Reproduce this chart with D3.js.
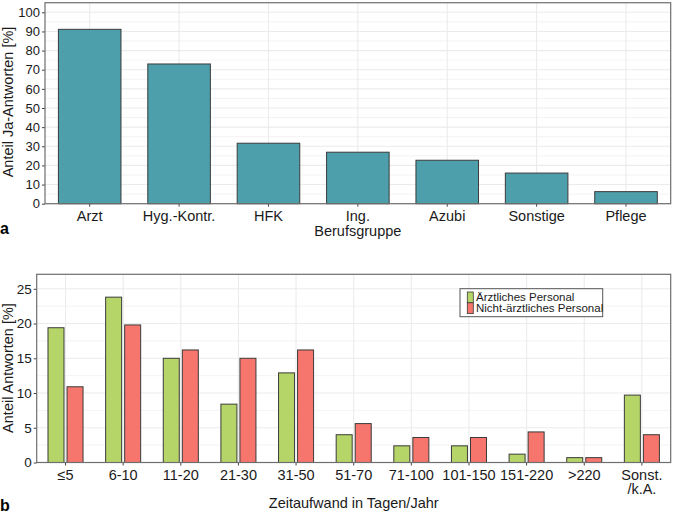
<!DOCTYPE html>
<html><head><meta charset="utf-8">
<script src="https://cdn.jsdelivr.net/npm/d3@7"></script>
<style>
html,body{margin:0;padding:0;background:#fff;}
svg{display:block;font-family:"Liberation Sans",Arial,sans-serif;}
</style></head>
<body>
<svg id="chart" width="673" height="513"></svg>
<script>
// Panel a data
const groupsA = ["Arzt","Hyg.-Kontr.","HFK","Ing.","Azubi","Sonstige","Pflege"];
const valuesA = [91.1, 73.0, 31.6, 26.9, 22.7, 16.0, 6.3];
const yTicksA = [0,10,20,30,40,50,60,70,80,90,100];

// Panel b data
const categoriesB = ["≤5","6-10","11-20","21-30","31-50","51-70","71-100","101-150","151-220",">220","Sonst.\n/k.A."];
const seriesNames = ["Ärztliches Personal","Nicht-ärztliches Personal"];
const aerztlich = [19.4, 23.8, 15.0, 8.4, 12.9, 4.0, 2.4, 2.4, 1.2, 0.7, 9.7];
const nichtAerztlich = [10.9, 19.8, 16.2, 15.0, 16.2, 5.6, 3.6, 3.6, 4.4, 0.7, 4.0];
const yTicksB = [0,5,10,15,20,25];

const colA = "#4d9fac";
const colors = ["#b5d568","#f6766d"];
const gridCol = "#ebebeb";
const borderCol = "#6e6e6e";
const barStroke = "#3b3b3b";

const svg = d3.select("#chart");

function panel(opts){
  const g = svg.append("g");
  const {x, y, majors, minors, xLabels} = opts;
  const [x0,x1] = x.range();
  const [yb,yt] = y.range();
  // minor grid
  g.selectAll(".ymin").data(minors).join("line")
    .attr("x1",x0).attr("x2",x1).attr("y1",d=>y(d)).attr("y2",d=>y(d))
    .attr("stroke",gridCol).attr("stroke-width",0.6);
  g.selectAll(".ymaj").data(majors).join("line")
    .attr("x1",x0).attr("x2",x1).attr("y1",d=>y(d)).attr("y2",d=>y(d))
    .attr("stroke",gridCol).attr("stroke-width",1.1);
  g.selectAll(".xmaj").data(xLabels).join("line")
    .attr("x1",d=>x(d)+x.bandwidth()/2).attr("x2",d=>x(d)+x.bandwidth()/2)
    .attr("y1",yb).attr("y2",yt)
    .attr("stroke",gridCol).attr("stroke-width",1.1);
  return g;
}

function frame(g, x, y, yTicks, xLabels, tickFontY, tickFontX){
  const [x0,x1] = x.range();
  const [yb,yt] = y.range();
  // y axis
  const ya = g.append("g").attr("transform",`translate(${x0},0)`)
    .call(d3.axisLeft(y).tickValues(yTicks).tickSize(3).tickPadding(2));
  ya.select(".domain").remove();
  ya.selectAll("line").attr("stroke","#444");
  ya.selectAll("text").attr("fill","#1a1a1a").style("font-size",tickFontY+"px")
    .style("font-family","'Liberation Sans',Arial,sans-serif");
  const xa = g.append("g").attr("transform",`translate(0,${yb})`)
    .call(d3.axisBottom(x).tickSize(3).tickPadding(3).tickFormat(()=>""));
  xa.select(".domain").remove();
  xa.selectAll("line").attr("stroke","#444");
  xa.selectAll(".tick").each(function(d){
    const lines = d.split("\n");
    const t = d3.select(this).append("text").attr("fill","#1a1a1a")
      .attr("text-anchor","middle").style("font-size",tickFontX+"px")
      .style("font-family","'Liberation Sans',Arial,sans-serif");
    lines.forEach((l,i)=>t.append("tspan").attr("x",0).attr("y",17+i*14.5).text(l));
  });
  g.append("rect").attr("x",x0).attr("y",yt).attr("width",x1-x0).attr("height",yb-yt)
    .attr("fill","none").attr("stroke",borderCol).attr("stroke-width",1.2);
}

// ---------- Panel a ----------
const xA = d3.scaleBand().domain(groupsA).range([45,670.7]).paddingInner(0.3).paddingOuter(0.15);
const yA = d3.scaleLinear().domain([0,105]).range([203.7, 203.7-105*1.914]);
const gA = panel({x:xA, y:yA, majors:yTicksA, minors:d3.range(5,105,10), xLabels:groupsA});
gA.selectAll(".bar").data(groupsA).join("rect")
  .attr("x",d=>xA(d)).attr("width",xA.bandwidth())
  .attr("y",(d,i)=>yA(valuesA[i])).attr("height",(d,i)=>yA(0)-yA(valuesA[i]))
  .attr("fill",colA).attr("stroke",barStroke).attr("stroke-width",1);
frame(gA, xA, yA, yTicksA, groupsA, 13, 14.5);
svg.append("text").attr("x",357.8).attr("y",236).attr("text-anchor","middle")
  .style("font-size","14.5px").attr("fill","#1a1a1a").text("Berufsgruppe");
svg.append("text").attr("transform","translate(13,102) rotate(-90)").attr("text-anchor","middle")
  .style("font-size","14.5px").attr("fill","#1a1a1a").text("Anteil Ja-Antworten [%]");
svg.append("text").attr("x",0).attr("y",234).style("font-size","16px").style("font-weight","bold").text("a");

// ---------- Panel b ----------
const xB = d3.scaleBand().domain(categoriesB).range([36.7,670.7]).paddingInner(0).paddingOuter(0);
const yB = d3.scaleLinear().domain([0,27.09]).range([462.5, 274.3]);
const gB = panel({x:xB, y:yB, majors:yTicksB, minors:d3.range(2.5,27,5), xLabels:categoriesB});
const xSub = d3.scaleBand().domain([0,1]).range([0.196*xB.step(), 0.804*xB.step()]).paddingInner(0.16);
const seriesVals = [aerztlich, nichtAerztlich];
seriesVals.forEach((vals,s)=>{
  gB.selectAll(".bar"+s).data(categoriesB).join("rect")
    .attr("x",d=>xB(d)+xSub(s)).attr("width",xSub.bandwidth())
    .attr("y",(d,i)=>yB(vals[i])).attr("height",(d,i)=>yB(0)-yB(vals[i]))
    .attr("fill",colors[s]).attr("stroke",barStroke).attr("stroke-width",1);
});
frame(gB, xB, yB, yTicksB, categoriesB, 13.5, 14.5);
svg.append("text").attr("x",353.7).attr("y",508).attr("text-anchor","middle")
  .style("font-size","14.5px").attr("fill","#1a1a1a").text("Zeitaufwand in Tagen/Jahr");
svg.append("text").attr("transform","translate(13,368) rotate(-90)").attr("text-anchor","middle")
  .style("font-size","14.5px").attr("fill","#1a1a1a").text("Anteil Antworten [%]");
svg.append("text").attr("x",0).attr("y",511).style("font-size","16px").style("font-weight","bold").text("b");

// legend
const lg = svg.append("g").attr("transform","translate(460,288.7)");
lg.append("rect").attr("width",142.7).attr("height",28).attr("fill","#fff")
  .attr("stroke","#555").attr("stroke-width",1);
seriesNames.forEach((n,i)=>{
  lg.append("rect").attr("x",7.3).attr("y",3.3+i*10.8).attr("width",6).attr("height",10.8)
    .attr("fill",colors[i]).attr("stroke",barStroke).attr("stroke-width",0.8);
  lg.append("text").attr("x",16).attr("y",12.8+i*11).style("font-size","11.5px")
    .attr("fill","#1a1a1a").text(n);
});
</script>
</body></html>
